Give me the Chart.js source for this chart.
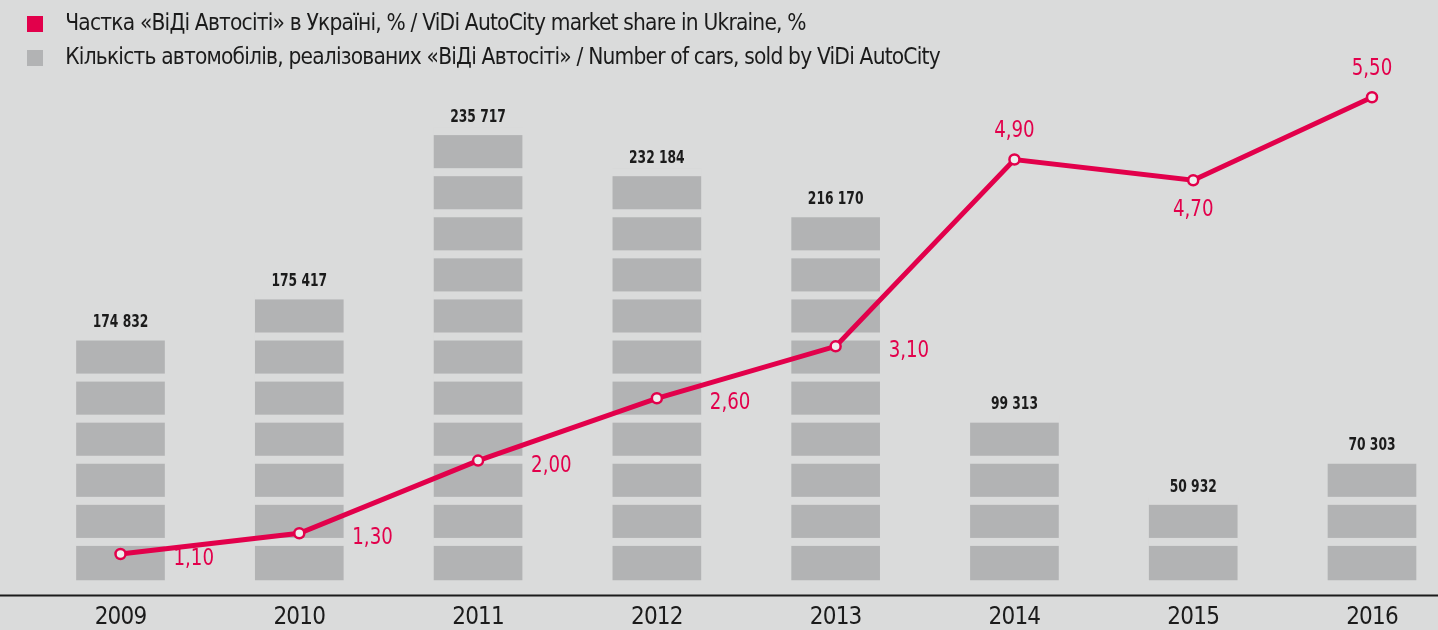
<!DOCTYPE html>
<html>
<head>
<meta charset="utf-8">
<script src="https://cdn.jsdelivr.net/npm/chart.js@4.4.1/dist/chart.umd.min.js"></script>
<style>
html,body{margin:0;padding:0;background:#dadbdb;overflow:hidden;}
#wrap{width:1438px;height:630px;position:relative;}
</style>
</head>
<body>
<div id="wrap"><canvas id="c" width="1438" height="630"></canvas></div>
<script>
// ---- data ----
const years = ['2009', '2010', '2011', '2012', '2013', '2014', '2015', '2016'];
const marketShare = [1.10, 1.30, 2.00, 2.60, 3.10, 4.90, 4.70, 5.50];
const carsSold = [174832, 175417, 235717, 232184, 216170, 99313, 50932, 70303];
const barBlocks = [6, 7, 11, 10, 9, 4, 2, 3];   // visual height of each bar, in blocks
const shareLabelSide = ['right', 'right', 'right', 'right', 'right', 'above', 'below', 'above'];
const seriesNames = [
  'Частка «ВіДі Автосіті» в Україні, % / ViDi AutoCity market share in Ukraine, %',
  'Кількість автомобілів, реалізованих «ВіДі Автосіті» / Number of cars, sold by ViDi AutoCity'
];

// ---- styles ----
const BG = '#dadbdb';
const RED = '#e2004b';
const GRAY = '#b2b3b4';
const INK = '#1b1b1b';
const FONT = "'Liberation Sans Narrow','Arial Narrow','DejaVu Sans Condensed',sans-serif";
const TIGHT = '-0.8px';

function swatch(color) {
  const c = document.createElement('canvas');
  c.width = 27; c.height = 16;
  const g = c.getContext('2d');
  g.fillStyle = color;
  g.fillRect(0, 0, 16, 16);
  return c;
}

const fmtShare = v => v.toFixed(2).replace('.', ',');
const fmtCars = v => String(v).replace(/\B(?=(\d{3})+(?!\d))/g, ' ');

function narrowText(ctx, text, x, y, sx, align) {
  ctx.save();
  ctx.translate(x, y);
  ctx.scale(sx, 1);
  ctx.textAlign = align;
  ctx.fillText(text, 0, 0);
  ctx.restore();
}

const bgPlugin = {
  id: 'bg',
  beforeUpdate(chart) { chart.ctx.letterSpacing = TIGHT; },
  beforeLayout(chart) { chart.ctx.letterSpacing = TIGHT; },
  beforeDraw(chart) {
    const ctx = chart.ctx;
    ctx.letterSpacing = TIGHT;
    ctx.save();
    ctx.fillStyle = BG;
    ctx.fillRect(0, 0, chart.width, chart.height);
    ctx.restore();
  },
  afterDatasetDraw(chart, args) {
    if (args.index !== 1) return;
    const ctx = chart.ctx;
    const ys = chart.scales.y;
    ctx.save();
    ctx.fillStyle = BG;
    args.meta.data.forEach((bar, i) => {
      const w = bar.width;
      for (let k = 1; k <= barBlocks[i]; k++) {
        const py = ys.getPixelForValue(k);
        ctx.fillRect(bar.x - w / 2 - 1, py - 1, w + 2, 8);
      }
    });
    ctx.restore();
  },
  afterDatasetsDraw(chart) {
    const ctx = chart.ctx;
    const ys = chart.scales.y;
    ctx.save();
    ctx.letterSpacing = '0px';
    // axis line
    const ay = chart.chartArea.bottom + 15.5;
    ctx.strokeStyle = INK;
    ctx.lineWidth = 2;
    ctx.beginPath();
    ctx.moveTo(0, ay);
    ctx.lineTo(chart.width, ay);
    ctx.stroke();
    // bar labels
    ctx.fillStyle = INK;
    ctx.font = "bold 18px " + FONT;
    ctx.textBaseline = 'middle';
    chart.getDatasetMeta(1).data.forEach((bar, i) => {
      narrowText(ctx, fmtCars(carsSold[i]), bar.x, ys.getPixelForValue(barBlocks[i]) - 11, 0.76, 'center');
    });
    // line labels
    ctx.fillStyle = RED;
    ctx.font = "23px " + FONT;
    chart.getDatasetMeta(0).data.forEach((pt, i) => {
      const side = shareLabelSide[i];
      const t = fmtShare(marketShare[i]);
      if (side === 'right') {
        narrowText(ctx, t, pt.x + 53, pt.y + 5, 0.88, 'left');
      } else if (side === 'above') {
        narrowText(ctx, t, pt.x, pt.y - 28, 0.88, 'center');
      } else {
        narrowText(ctx, t, pt.x, pt.y + 30, 0.88, 'center');
      }
    });
    ctx.restore();
  }
};

const BOTTOM = 580, TOP = 80;
const UNIT = 41;            // px per block
const SHARE_ZERO = 668, SHARE_PX = 103.6;

new Chart(document.getElementById('c'), {
  data: {
    labels: years,
    datasets: [
      {
        type: 'line',
        label: seriesNames[0],
        data: marketShare,
        yAxisID: 'y2',
        order: 0,
        borderColor: RED,
        borderWidth: 5,
        tension: 0,
        pointRadius: 5,
        pointBorderWidth: 2.5,
        pointBackgroundColor: '#eeeeee',
        pointBorderColor: RED,
        clip: false
      },
      {
        type: 'bar',
        label: seriesNames[1],
        data: barBlocks,
        yAxisID: 'y',
        order: 1,
        backgroundColor: GRAY,
        barThickness: 88,
        clip: false
      }
    ]
  },
  options: {
    responsive: false,
    animation: false,
    events: [],
    layout: { padding: { left: 16, right: 0, top: 2, bottom: 0 } },
    plugins: {
      tooltip: { enabled: false },
      legend: {
        position: 'top',
        align: 'start',
        labels: {
          usePointStyle: true,
          pointStyleWidth: 27,
          padding: 11,
          color: INK,
          font: { family: FONT, size: 22.5 },
          generateLabels(chart) {
            return seriesNames.map((t, i) => ({
              text: t,
              pointStyle: swatch(i === 0 ? RED : GRAY),
              fillStyle: i === 0 ? RED : GRAY,
              strokeStyle: 'transparent',
              lineWidth: 0,
              hidden: false,
              datasetIndex: i,
              fontColor: INK
            }));
          }
        }
      }
    },
    scales: {
      x: {
        offset: false,
        grid: { display: false, drawTicks: false },
        border: { display: false },
        ticks: { color: INK, padding: 23, font: { family: FONT, size: 24 } },
        afterFit(s) { s.height = 50; }
      },
      y: {
        position: 'left',
        min: 0,
        max: (BOTTOM - TOP) / UNIT,
        grid: { display: false },
        border: { display: false },
        ticks: { display: false },
        afterFit(s) { s.width = 104.5; }
      },
      y2: {
        position: 'right',
        min: (SHARE_ZERO - BOTTOM) / SHARE_PX,
        max: (SHARE_ZERO - TOP) / SHARE_PX,
        grid: { display: false },
        border: { display: false },
        ticks: { display: false },
        afterFit(s) { s.width = 66; }
      }
    }
  },
  plugins: [bgPlugin]
});
</script>
</body>
</html>
